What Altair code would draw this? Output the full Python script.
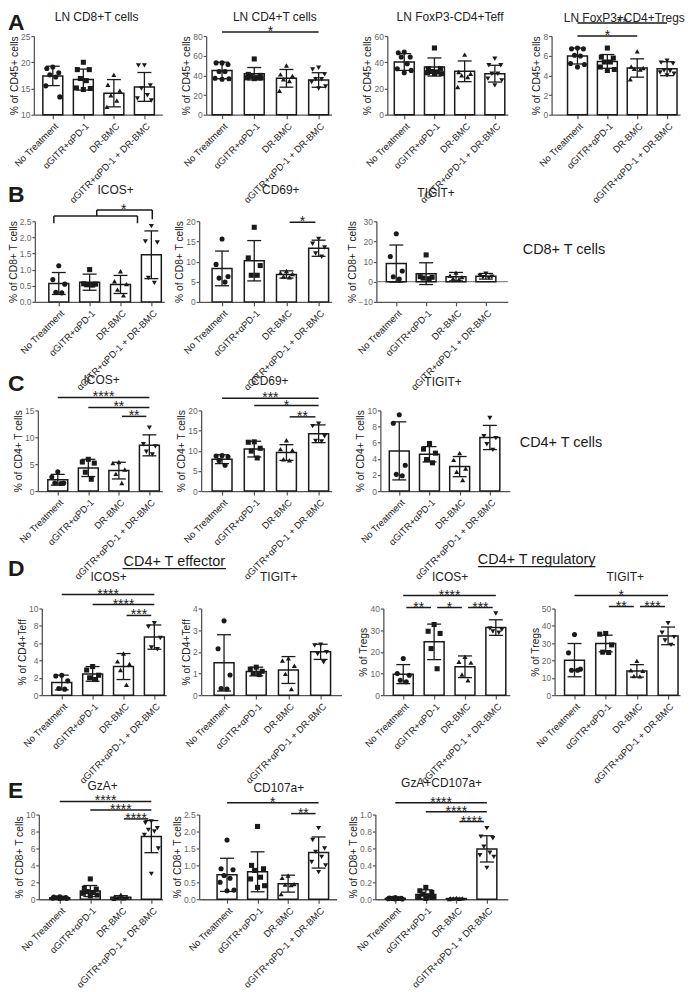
import json
import altair as alt
import pandas as pd

FONT = "Liberation Sans"
GROUPS = ["No Treatment", "αGITR+αPD-1", "DR-BMC", "αGITR+αPD-1 + DR-BMC"]
SHAPES = ["circle", "square", "triangle-up", "triangle-down"]

# ---------------- values ----------------
# A
A1_mean = [17.4, 16.7, 14.1, 15.3]
A1_sd = [1.85, 2.0, 2.6, 2.75]
A1_pts = [[19.1, 18.8, 18.0, 17.6, 17.2, 15.5, 13.4],
          [20.0, 18.6, 18.6, 16.9, 16.5, 15.1, 15.0, 14.8],
          [17.6, 15.7, 14.6, 13.7, 12.7, 11.5],
          [19.4, 19.4, 15.6, 15.0, 13.7, 13.1, 12.7]]
A2_mean = [45.0, 41.7, 37.0, 35.3]
A2_sd = [8.4, 6.3, 9.0, 7.4]
A2_pts = [[52.7, 52.7, 51.0, 44.0, 44.0, 37.0, 36.0, 36.5],
          [56.7, 41.0, 40.0, 39.0, 37.7, 37.3, 36.7, 37.5],
          [50.0, 41.0, 39.3, 36.0, 34.3, 24.3],
          [47.7, 46.0, 41.0, 36.0, 36.0, 33.3, 28.7, 26.7]]
A2_sig = [(0, 3, 84.1, "*")]
A3_mean = [40.2, 36.4, 33.1, 31.3]
A3_sd = [6.4, 6.9, 7.9, 6.4]
A3_pts = [[47.8, 47.3, 44.0, 44.0, 38.9, 35.1, 33.8, 32.0],
          [50.9, 35.1, 35.1, 32.6, 32.0, 31.3, 31.3, 33.0],
          [45.8, 32.6, 31.3, 30.0, 28.8, 21.1],
          [42.7, 37.7, 37.7, 31.3, 31.3, 27.5, 26.2, 22.4]]
A4_mean = [5.97, 5.42, 4.75, 4.68]
A4_sd = [0.81, 0.7, 0.93, 0.71]
A4_pts = [[6.78, 6.7, 6.7, 6.05, 5.97, 5.2, 5.1, 4.85],
          [6.78, 5.86, 5.76, 5.36, 5.36, 4.85, 4.5, 4.6],
          [6.44, 4.9, 4.75, 4.68, 4.6, 3.6],
          [5.5, 5.3, 5.2, 4.5, 4.45, 4.17, 4.3, 4.0]]
A4_sig = [(0, 3, 9.32, "**"), (0, 2, 8.0, "*")]
# B
B1_mean = [0.57, 0.61, 0.54, 1.46]
B1_sd = [0.34, 0.25, 0.28, 0.74]
B1_pts = [[1.12, 0.69, 0.55, 0.30, 0.28],
          [1.0, 0.56, 0.55, 0.53, 0.52],
          [0.95, 0.64, 0.55, 0.38, 0.2],
          [2.35, 1.84, 1.87, 0.74, 0.59]]
# bracket: (x, y, x2, y2) in group-index / data units
B1_bracket = [(-0.16, 2.664, 2.55, 2.664), (-0.16, 2.664, -0.16, 2.438),
              (2.55, 2.664, 2.55, 2.438), (1.23, 2.664, 1.23, 2.849),
              (1.23, 2.849, 3.03, 2.849), (3.03, 2.849, 3.03, 2.562)]
B1_bracket_label = [(2.1, 2.849, "*")]
B2_mean = [8.3, 10.2, 6.8, 13.3]
B2_sd = [4.3, 5.0, 0.9, 2.0]
B2_pts = [[15.6, 9.3, 6.3, 5.9, 4.9],
          [18.5, 10.9, 9.0, 6.6, 6.6],
          [7.65, 7.2, 6.9, 6.3, 6.1],
          [15.6, 14.4, 13.5, 12.0, 11.2]]
B2_sig = [(2, 3, 19.75, "*")]
B3_mean = [9.0, 4.0, 2.5, 2.7]
B3_sd = [9.2, 5.4, 2.1, 1.4]
B3_pts = [[23.8, 12.5, 5.3, 2.5, 1.3],
          [13.3, 2.5, 2.2, 1.8, 1.5],
          [4.5, 3.0, 2.3, 1.6, 1.2],
          [4.0, 3.0, 2.5, 2.2, 1.9]]
# C
C1_mean = [2.1, 4.3, 3.8, 8.5]
C1_sd = [1.0, 1.6, 1.55, 1.95]
C1_pts = [[3.6, 2.6, 1.5, 1.5, 1.4],
          [5.9, 5.4, 5.2, 3.5, 2.2],
          [5.4, 5.2, 4.0, 3.2, 1.5],
          [11.8, 8.7, 8.3, 7.3, 6.8]]
C1_sig = [(0, 3, 17.41, "****"), (1, 3, 15.56, "**"), (2, 3, 13.89, "**")]
C2_mean = [7.9, 10.4, 9.55, 14.2]
C2_sd = [1.1, 1.95, 1.95, 2.2]
C2_pts = [[8.8, 8.7, 8.5, 7.6, 6.4],
          [12.1, 12.2, 10.6, 9.9, 8.2],
          [12.6, 10.4, 10.1, 7.9, 7.65],
          [16.7, 16.1, 13.6, 12.4, 12.3]]
C2_sig = [(0, 3, 23.0, "***"), (1, 3, 21.2, "*"), (2, 3, 18.4, "**")]
C3_mean = [4.98, 4.56, 3.03, 6.64]
C3_sd = [3.6, 0.95, 1.25, 1.5]
C3_pts = [[9.46, 8.4, 3.2, 2.07, 1.9],
          [5.9, 5.2, 4.7, 3.9, 3.5],
          [4.7, 3.86, 2.8, 2.4, 1.37],
          [9.05, 6.8, 6.56, 5.8, 5.1]]
# D
D1_mean = [1.46, 2.45, 3.3, 6.7]
D1_sd = [0.85, 0.85, 1.5, 1.4]
D1_pts = [[2.3, 2.2, 1.65, 0.77, 0.69],
          [3.3, 2.9, 2.3, 2.0, 1.8],
          [4.8, 3.9, 3.6, 2.9, 1.2],
          [8.3, 7.9, 6.6, 5.5, 5.3]]
D1_sig = [(0, 3, 11.61, "****"), (1, 3, 10.46, "****"), (2, 3, 9.2, "***")]
D2_mean = [1.49, 1.09, 1.16, 2.0]
D2_sd = [1.3, 0.2, 0.62, 0.35]
D2_pts = [[3.43, 2.14, 0.93, 0.31, 0.28],
          [1.29, 1.2, 1.1, 1.0, 0.95],
          [1.7, 1.6, 1.36, 0.98, 0.28],
          [2.33, 2.3, 1.98, 1.9, 1.52]]
D3_mean = [9.7, 24.6, 13.1, 31.2]
D3_sd = [4.4, 8.2, 5.0, 3.6]
D3_pts = [[16.9, 10.0, 9.2, 6.9, 6.2],
          [32.6, 29.5, 28.5, 21.5, 12.2],
          [17.7, 15.4, 15.0, 9.5, 6.9],
          [37.7, 30.8, 30.2, 29.4, 28.8]]
D3_sig = [(0, 3, 45.98, "****"), (0, 1, 40.46, "**"), (1, 2, 40.46, "*"), (2, 3, 40.46, "***")]
D4_mean = [20.2, 29.8, 14.0, 34.2]
D4_sd = [9.6, 4.8, 3.6, 5.1]
D4_pts = [[35.0, 24.4, 15.0, 14.4, 14.4],
          [35.6, 35.2, 29.0, 24.8, 24.6],
          [19.8, 14.4, 14.0, 11.0, 10.8],
          [41.5, 36.0, 33.5, 31.5, 29.0]]
D4_sig = [(0, 3, 57.47, "*"), (1, 2, 51.15, "**"), (2, 3, 51.15, "***")]
# E
E1_mean = [0.18, 0.97, 0.22, 7.4]
E1_sd = [0.08, 0.65, 0.2, 1.9]
E1_pts = [[0.3, 0.25, 0.2, 0.18, 0.15, 0.12, 0.1, 0.1],
          [2.4, 1.3, 1.2, 0.9, 0.8, 0.7, 0.5, 0.4],
          [0.55, 0.3, 0.2, 0.15, 0.1, 0.05],
          [9.2, 9.0, 8.4, 8.2, 8.0, 7.6, 6.0, 3.0]]
E1_sig = [(0, 3, 11.56, "****"), (1, 3, 10.55, "****"), (2, 3, 9.49, "****")]
E2_mean = [0.72, 0.81, 0.46, 1.38]
E2_sd = [0.49, 0.59, 0.25, 0.46]
E2_pts = [[1.75, 0.9, 0.87, 0.7, 0.62, 0.5, 0.27, 0.25],
          [2.15, 1.0, 0.9, 0.85, 0.65, 0.6, 0.4, 0.35],
          [0.7, 0.63, 0.45, 0.43, 0.42, 0.15],
          [2.1, 1.75, 1.5, 1.4, 1.25, 1.1, 1.0, 0.8]]
E2_sig = [(0, 3, 2.85, "*"), (2, 3, 2.53, "**")]
E3_mean = [0.01, 0.056, 0.008, 0.595]
E3_sd = [0.006, 0.055, 0.005, 0.155]
E3_pts = [[0.02, 0.015, 0.01, 0.01, 0.008, 0.005, 0.003, 0.002],
          [0.14, 0.1, 0.08, 0.06, 0.04, 0.03, 0.02, 0.01],
          [0.015, 0.01, 0.01, 0.008, 0.005, 0.003],
          [0.84, 0.74, 0.72, 0.62, 0.55, 0.52, 0.5, 0.37]]
E3_sig = [(0, 3, 1.141, "****"), (1, 3, 1.035, "****"), (2, 3, 0.918, "****")]

# ---------------- layout (page pixels): axis left, axis right, 1st/4th group centre, height
GEO = {
    "A1": (34, 163, 53, 145, 79), "A2": (207, 333, 223, 320, 79),
    "A3": (389, 510, 406, 497, 79), "A4": (554, 683, 580, 670, 79),
    "B1": (35, 165, 59, 152, 81), "B2": (200, 333, 223, 320, 81),
    "B3": (378, 510, 398, 488, 81),
    "C1": (38, 163, 58, 150, 81), "C2": (202, 333, 223, 320, 81),
    "C3": (382, 512, 401, 492, 81),
    "D1": (42, 167, 62, 155, 87), "D2": (202, 343, 225, 322, 87),
    "D3": (385, 512, 405, 498, 87), "D4": (557, 683, 577, 671, 87),
    "E1": (39, 163, 60, 152, 85), "E2": (200, 338, 228, 320, 85),
    "E3": (377, 510, 397, 489, 85),
}
ROW_TOP = {"A": 37, "B": 223, "C": 413, "D": 612, "E": 819}
ORIGIN_X = 13
TOFF = {"A1": -1, "A2": -8, "A3": -1, "A4": -18, "B1": -2.7, "B2": 9.3,
        "B3": 8.5, "C1": -6, "C2": -6, "C3": 8.5, "D1": -5.2, "D2": 11.5,
        "D3": -4.2, "D4": -4.2, "E1": -7.7, "E2": -7.7, "E3": -3.7}
TDX = {"A1": -1.5, "A2": 6, "A3": 2.5, "A4": 8.5, "B1": 16, "B2": 15.5, "B3": -6,
       "C1": 1.5, "C2": 3.5, "C3": -2, "D1": 4.5, "D2": 7.5, "D3": 3.5, "D4": 8,
       "E1": 2, "E2": 11, "E3": 0}
JIT = [0, -6, 6, -3, 3, -7, 7, 0, -4, 4]
LABEL_EXPR = json.dumps(GROUPS, ensure_ascii=False) + "[datum.value]"
INK = "#1a1a1a"
STAR = 14


def panel(key, mean, sd, pts, ydom, yticks, yfmt, ytitle, title, sig=(),
          base=0, bracket=None, bracket_label=None, zero_line=False):
    L, R, c1, c4, h = GEO[key]
    w = R - L
    s = (c4 - c1) / 3.0
    a = -(c1 - L) / s
    b = a + w / s
    hw, cw = 10.0 / s, 7.0 / s

    bars = pd.DataFrame({"idx": [0, 1, 2, 3], "g": GROUPS, "mean": mean, "sd": sd})
    bars["base"] = base
    bars["lo"] = bars["mean"] - bars["sd"]
    bars["hi"] = bars["mean"] + bars["sd"]
    bars["bx1"] = bars["idx"] - hw
    bars["bx2"] = bars["idx"] + hw
    bars["cx1"] = bars["idx"] - cw
    bars["cx2"] = bars["idx"] + cw

    rows = []
    for i, vals in enumerate(pts):
        for k, v in enumerate(sorted(vals, reverse=True)):
            rows.append({"g": GROUPS[i], "v": v, "px": i + JIT[k % len(JIT)] / s})
    dots = pd.DataFrame(rows)

    xs = alt.Scale(domain=[a, b], nice=False, zero=False)
    ys = alt.Scale(domain=list(ydom), nice=False, zero=False)
    xax = alt.Axis(values=[0, 1, 2, 3], labelExpr=LABEL_EXPR, labelAngle=-45,
                   labelAlign="right", labelBaseline="top", labelFontSize=9.5,
                   labelColor="#222", labelFont=FONT, labelPadding=2,
                   labelFlush=False, labelOverlap=False, tickSize=4,
                   tickColor="#555", domainColor="#555", domainWidth=1.3,
                   tickWidth=1.2, grid=False, title=None)
    yax = alt.Axis(values=yticks, format=yfmt, labelFontSize=8.5, labelColor="#666",
                   labelFont=FONT, labelPadding=1, labelFlush=False,
                   labelOverlap=False, tickSize=3, tickColor="#555",
                   domainColor="#555", domainWidth=1.3, tickWidth=1.2, grid=False,
                   title=ytitle, titleFont=FONT, titleFontSize=10.3,
                   titleFontWeight="normal", titleColor="#222", titlePadding=1)

    def X(f):
        return alt.X(f, type="quantitative", scale=xs, axis=xax)

    def Y(f):
        return alt.Y(f, type="quantitative", scale=ys, axis=yax)

    layers = []
    if zero_line:
        zdf = pd.DataFrame({"z": [0.0]})
        layers.append(alt.Chart(zdf).mark_rule(color="#888", strokeWidth=1.2).encode(
            y=Y("z"), x=alt.value(0), x2=alt.value(w)))
    layers.append(alt.Chart(bars).mark_rect(fill="white", stroke=INK, strokeWidth=1.5).encode(
        x=X("bx1"), x2=alt.X2("bx2"), y=Y("mean"), y2=alt.Y2("base")))
    layers.append(alt.Chart(bars).mark_rule(color=INK, strokeWidth=1.3).encode(
        x=X("idx"), y=Y("lo"), y2=alt.Y2("hi")))
    layers.append(alt.Chart(bars).mark_rule(color=INK, strokeWidth=1.3).encode(
        x=X("cx1"), x2=alt.X2("cx2"), y=Y("hi")))
    layers.append(alt.Chart(bars).mark_rule(color=INK, strokeWidth=1.3).encode(
        x=X("cx1"), x2=alt.X2("cx2"), y=Y("lo")))
    layers.append(alt.Chart(dots).mark_point(filled=True, size=26, opacity=1, color=INK).encode(
        x=X("px"), y=Y("v"),
        shape=alt.Shape("g:N", scale=alt.Scale(domain=GROUPS, range=SHAPES), legend=None)))

    if sig:
        sdf = pd.DataFrame(list(sig), columns=["i1", "i2", "y", "lab"])
        inset = [0.1 if (j - i) == 1 else 0.0 for i, j in zip(sdf["i1"], sdf["i2"])]
        sdf["x1"] = sdf["i1"] + inset
        sdf["x2"] = sdf["i2"] - inset
        sdf["xm"] = (sdf["i1"] + sdf["i2"]) / 2.0
        layers.append(alt.Chart(sdf).mark_rule(color=INK, strokeWidth=1.5).encode(
            x=X("x1"), x2=alt.X2("x2"), y=Y("y")))
        layers.append(alt.Chart(sdf).mark_text(fontSize=STAR, font=FONT, baseline="alphabetic",
                                               dy=4, color=INK).encode(
            x=X("xm"), y=Y("y"), text="lab:N"))
    if bracket:
        bdf = pd.DataFrame(bracket, columns=["x1", "y1", "x2", "y2"])
        layers.append(alt.Chart(bdf).mark_rule(color=INK, strokeWidth=1.5).encode(
            x=X("x1"), x2=alt.X2("x2"), y=Y("y1"), y2=alt.Y2("y2")))
        ldf = pd.DataFrame(bracket_label, columns=["xm", "y", "lab"])
        layers.append(alt.Chart(ldf).mark_text(fontSize=STAR, font=FONT, baseline="alphabetic",
                                               dy=4, color=INK).encode(
            x=X("xm"), y=Y("y"), text="lab:N"))

    return alt.layer(*layers).properties(
        width=w, height=h,
        title=alt.TitleParams(title, font=FONT, fontSize=12, fontWeight="normal",
                              color="#222", frame="group", anchor="middle",
                              baseline="alphabetic", offset=TOFF[key], dx=TDX[key]))


def spacer(w, h, texts=(), rules=()):
    layers = [alt.Chart(pd.DataFrame({"t": [""]})).mark_text().encode(
        text="t:N", x=alt.value(0), y=alt.value(0))]
    for (t, x, y, size, weight, align, baseline) in texts:
        layers.append(alt.Chart(pd.DataFrame({"t": [t]})).mark_text(
            fontSize=size, fontWeight=weight, align=align, baseline=baseline,
            font=FONT, color=INK).encode(text="t:N", x=alt.value(x), y=alt.value(y)))
    for (x1, x2, y) in rules:
        layers.append(alt.Chart(pd.DataFrame({"t": [0]})).mark_rule(
            color=INK, strokeWidth=1.2).encode(x=alt.value(x1), x2=alt.value(x2), y=alt.value(y)))
    return alt.layer(*layers).properties(width=w, height=h)


def row(keys, charts, h, letter, letter_y, extra=None):
    extra = extra or {}
    items = []
    first = GEO[keys[0]][0] - ORIGIN_X
    items.append(spacer(first, h, texts=[(letter, -5, letter_y, 23, "bold", "left", "top")]))
    for n, k in enumerate(keys):
        items.append(charts[k])
        if n + 1 < len(keys):
            gap = GEO[keys[n + 1]][0] - GEO[k][1]
            t, r = extra.get(k, ((), ()))
            items.append(spacer(gap, h, texts=t, rules=r))
    if "end" in extra:
        t, r = extra["end"]
        items.append(spacer(150, h, texts=t, rules=r))
    return alt.hconcat(*items, spacing=0, bounds="flush")


P = {}
P["A1"] = panel("A1", A1_mean, A1_sd, A1_pts, (10, 25), [10, 15, 20, 25], "d",
                "% of CD45+ cells", "LN CD8+T cells", base=10)
P["A2"] = panel("A2", A2_mean, A2_sd, A2_pts, (0, 80), [0, 20, 40, 60, 80], "d",
                "% of CD45+ cells", "LN CD4+T cells", sig=A2_sig)
P["A3"] = panel("A3", A3_mean, A3_sd, A3_pts, (0, 60), [0, 20, 40, 60], "d",
                "% of CD45+ cells", "LN FoxP3-CD4+Teff")
P["A4"] = panel("A4", A4_mean, A4_sd, A4_pts, (0, 8), [0, 2, 4, 6, 8], "d",
                "% of CD45+ cells", "LN FoxP3+CD4+Tregs", sig=A4_sig)
P["B1"] = panel("B1", B1_mean, B1_sd, B1_pts, (0, 2.5), [0, 0.5, 1, 1.5, 2, 2.5], ".1f",
                "% of CD8+ T cells", "ICOS+", bracket=B1_bracket, bracket_label=B1_bracket_label)
P["B2"] = panel("B2", B2_mean, B2_sd, B2_pts, (0, 20), [0, 5, 10, 15, 20], "d",
                "% of CD8+ T cells", "CD69+", sig=B2_sig)
P["B3"] = panel("B3", B3_mean, B3_sd, B3_pts, (-10, 30), [-10, 0, 10, 20, 30], "d",
                "% of CD8+ T cells", "TIGIT+", zero_line=True)
P["C1"] = panel("C1", C1_mean, C1_sd, C1_pts, (0, 15), [0, 5, 10, 15], "d",
                "% of CD4+ T cells", "ICOS+", sig=C1_sig)
P["C2"] = panel("C2", C2_mean, C2_sd, C2_pts, (0, 20), [0, 5, 10, 15, 20], "d",
                "% of CD4+ T cells", "CD69+", sig=C2_sig)
P["C3"] = panel("C3", C3_mean, C3_sd, C3_pts, (0, 10), [0, 2, 4, 6, 8, 10], "d",
                "% of CD4+ T cells", "TIGIT+")
P["D1"] = panel("D1", D1_mean, D1_sd, D1_pts, (0, 10), [0, 2, 4, 6, 8, 10], "d",
                "% of CD4+Teff", "ICOS+", sig=D1_sig)
P["D2"] = panel("D2", D2_mean, D2_sd, D2_pts, (0, 4), [0, 1, 2, 3, 4], "d",
                "% of CD4+Teff", "TIGIT+")
P["D3"] = panel("D3", D3_mean, D3_sd, D3_pts, (0, 40), [0, 10, 20, 30, 40], "d",
                "% of Tregs", "ICOS+", sig=D3_sig)
P["D4"] = panel("D4", D4_mean, D4_sd, D4_pts, (0, 50), [0, 10, 20, 30, 40, 50], "d",
                "% of Tregs", "TIGIT+", sig=D4_sig)
P["E1"] = panel("E1", E1_mean, E1_sd, E1_pts, (0, 10), [0, 2, 4, 6, 8, 10], "d",
                "% of CD8+ T cells", "GzA+", sig=E1_sig)
P["E2"] = panel("E2", E2_mean, E2_sd, E2_pts, (0, 2.5), [0, 0.5, 1, 1.5, 2, 2.5], ".1f",
                "% of CD8+ T cells", "CD107a+", sig=E2_sig)
P["E3"] = panel("E3", E3_mean, E3_sd, E3_pts, (0, 1), [0, 0.2, 0.4, 0.6, 0.8, 1.0], ".1f",
                "% of CD8+ T cells", "GzA+CD107a+", sig=E3_sig)

rowA = row(["A1", "A2", "A3", "A4"], P, 79, "A", -24)
rowB = row(["B1", "B2", "B3"], P, 81, "B", -37,
           extra={"end": ([("CD8+ T cells", 15, 29, 14.5, "normal", "left", "middle")], ())})
rowC = row(["C1", "C2", "C3"], P, 81, "C", -37,
           extra={"end": ([("CD4+ T cells", 10, 33, 14.5, "normal", "left", "middle")], ())})
rowD = row(["D1", "D2", "D3", "D4"], P, 87, "D", -51,
           extra={"D1": ([("CD4+ T effector", 8, -47, 14.5, "normal", "center", "middle")],
                         [(-44, 60, -40)]),
                  "D3": ([("CD4+ T regulatory", 27, -49, 14.5, "normal", "center", "middle")],
                         [(-32, 86, -42)])})
rowE = row(["E1", "E2", "E3"], P, 85, "E", -35)

# nested rows report no height in a flush layout, so the gaps are top-to-top distances
chart = alt.vconcat(
    rowA, spacer(1, ROW_TOP["B"] - ROW_TOP["A"]),
    rowB, spacer(1, ROW_TOP["C"] - ROW_TOP["B"]),
    rowC, spacer(1, ROW_TOP["D"] - ROW_TOP["C"]),
    rowD, spacer(1, ROW_TOP["E"] - ROW_TOP["D"]),
    rowE, spacing=0, bounds="flush").properties(
    padding={"left": 0, "top": 0, "right": 0, "bottom": 0}
).configure(font=FONT).configure_view(strokeWidth=0)

chart.save("out.html", embed_options={"renderer": "svg", "actions": False})
